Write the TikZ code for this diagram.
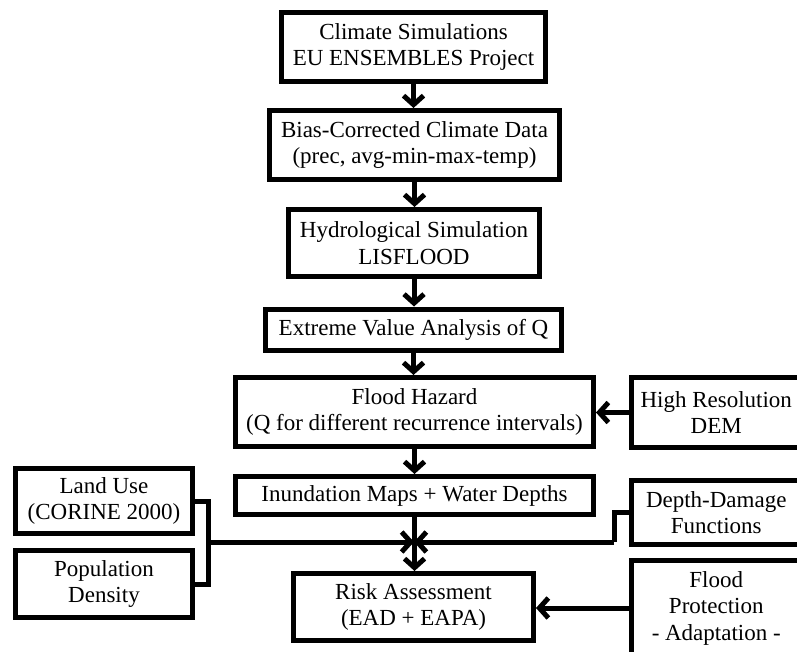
\documentclass[tikz,border=0pt]{standalone}
\usepackage{fontspec}
\setmainfont{Liberation Serif}
\usetikzlibrary{arrows.meta,calc}
\begin{document}
\begin{tikzpicture}[x=1pt,y=-1pt,
  box/.style={draw=black, line width=5pt, align=center, inner sep=0pt,
    font=\fontsize{23}{26.5}\selectfont},
  conn/.style={line width=5pt, draw=black},
  arr/.style={conn, -{Straight Barb[length=9pt,width=20pt,line width=5pt]}}]
\fill[white] (0,0) rectangle (797,652);
\useasboundingbox (0,0) rectangle (797,652);
\clip (0,0) rectangle (797,652);
% main column
\node[box, minimum width=264pt, minimum height=69pt] (c1) at (413.5,47) {Climate Simulations\\EU ENSEMBLES Project};
\node[box, minimum width=290pt, minimum height=69pt] (c2) at (414.5,145) {Bias-Corrected Climate Data\\(prec, avg-min-max-temp)};
\node[box, minimum width=251pt, minimum height=67pt] (c3) at (414,243) {Hydrological Simulation\\LISFLOOD};
\node[box, minimum width=296pt, minimum height=41pt] (c4) at (413.5,329.5) {Extreme Value Analysis of Q};
\node[box, minimum width=358pt, minimum height=69pt] (fh) at (414.5,412) {Flood Hazard\\(Q for different recurrence intervals)};
\node[box, minimum width=358pt, minimum height=38pt] (inun) at (414.5,495.5) {Inundation Maps + Water Depths};
\node[box, minimum width=240pt, minimum height=67pt] (risk) at (413.5,607) {Risk Assessment\\(EAD + EAPA)};
% right column
\node[box, minimum width=169.5pt, minimum height=70pt] (dem) at (716.25,412.5) {High Resolution\\DEM};
\node[box, minimum width=169.5pt, minimum height=64pt] (dd) at (716.25,512.5) {Depth-Damage\\Functions};
\node[box, minimum width=169.5pt, minimum height=95pt] (fp) at (716.25,608) {Flood\\Protection\\- Adaptation -};
% left column
\node[box, minimum width=177pt, minimum height=65pt] (lu) at (104,501) {Land Use\\(CORINE 2000)};
\node[box, minimum width=177pt, minimum height=67pt] (pd) at (104,584) {Population\\Density};
% connectors
\draw[arr] (c1.south) -- (c1.south |- c2.north);
\draw[arr] (c2.south) -- (c2.south |- c3.north);
\draw[arr] (c3.south) -- (c3.south |- c4.north);
\draw[arr] (c4.south) -- (c4.south |- fh.north);
\draw[arr] (fh.south) -- (fh.south |- inun.north);
\draw[arr] (dem.west) -- (dem.west -| fh.east);
\coordinate (j) at (414,542);
\coordinate (bx) at (208,542);
\coordinate (dk) at (614,542);
\draw[conn] (lu.east) -| (bx) |- (pd.east);
\draw[arr] (bx) -- (j);
\draw[conn] (dd.west) -| (dk);
\draw[arr] (dk) -- (j);
\draw[arr] (inun.south) -- (inun.south |- risk.north);
\draw[arr] (fp.west) -- (fp.west -| risk.east);
\end{tikzpicture}
\end{document}
